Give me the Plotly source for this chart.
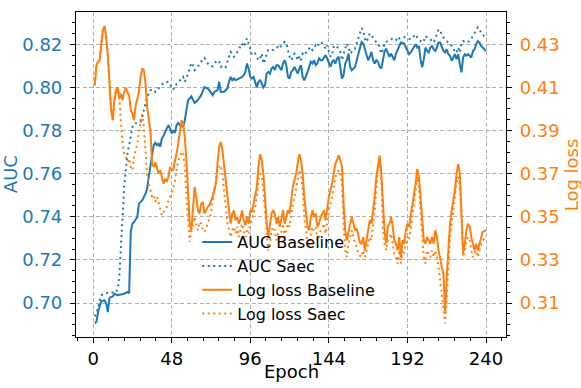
import plotly.graph_objects as go

# AUC, baseline model
auc_base_epoch = [1, 2, 3, 5, 7, 8, 9, 10, 12, 13, 15, 17, 19, 21, 22, 23, 24, 25, 27, 28, 30, 32, 33, 34, 36, 37, 38, 39, 40, 41,
                  42, 43, 44, 45, 46, 47, 48, 49, 50, 51, 52, 53, 55, 56, 57, 58, 60, 61, 62, 64, 65, 66, 68, 70, 71, 73, 74, 76, 77, 78,
                  80, 82, 83, 84, 85, 86, 87, 89, 91, 92, 93, 94, 95, 96, 97, 98, 99, 100, 101, 102, 103, 104, 105, 106, 107, 108, 109, 110,
                  111, 112, 113, 114, 115, 116, 117, 118, 119, 120, 121, 122, 123, 124, 125, 126, 127, 128, 129, 131, 132, 133, 134, 135,
                  136, 137, 138, 139, 140, 141, 142, 143, 144, 145, 146, 147, 148, 149, 150, 151, 152, 153, 154, 155, 156, 157, 158, 159,
                  160, 161, 162, 163, 164, 165, 166, 167, 168, 169, 170, 171, 172, 173, 174, 175, 176, 177, 178, 179, 180, 181, 182, 183,
                  184, 185, 186, 187, 188, 190, 192, 193, 194, 195, 196, 197, 198, 199, 200, 201, 202, 203, 204, 205, 206, 207, 208, 209,
                  210, 211, 212, 213, 214, 215, 216, 217, 218, 219, 220, 221, 222, 223, 224, 225, 226, 227, 228, 229, 230, 231, 232, 233,
                  234, 235, 236, 237, 238, 240]
auc_base = [0.6907, 0.6912, 0.6958, 0.7009, 0.7012, 0.6997, 0.6958, 0.7025, 0.7031, 0.7043, 0.7036, 0.7040, 0.7043, 0.7051, 0.7045,
            0.7330, 0.7368, 0.7376, 0.7399, 0.7461, 0.7476, 0.7507, 0.7531, 0.7585, 0.7693, 0.7732, 0.7743, 0.7732, 0.7739, 0.7724,
            0.7763, 0.7774, 0.7794, 0.7809, 0.7825, 0.7809, 0.7786, 0.7801, 0.7789, 0.7825, 0.7835, 0.7825, 0.7817, 0.7848, 0.7894,
            0.7941, 0.7959, 0.7944, 0.7928, 0.7941, 0.7953, 0.7964, 0.8002, 0.7995, 0.7987, 0.7964, 0.7979, 0.7987, 0.8026, 0.7979,
            0.7980, 0.7995, 0.8026, 0.8049, 0.8033, 0.8041, 0.8033, 0.8041, 0.8049, 0.8057, 0.8072, 0.8111, 0.8088, 0.8049, 0.8041,
            0.8049, 0.8026, 0.8000, 0.8026, 0.8033, 0.8018, 0.8000, 0.8010, 0.8064, 0.8072, 0.8064, 0.8088, 0.8095, 0.8080, 0.8103,
            0.8103, 0.8088, 0.8080, 0.8111, 0.8126, 0.8103, 0.8049, 0.8041, 0.8072, 0.8080, 0.8095, 0.8080, 0.8064, 0.8088, 0.8103,
            0.8049, 0.8033, 0.8072, 0.8095, 0.8119, 0.8111, 0.8126, 0.8103, 0.8111, 0.8134, 0.8126, 0.8126, 0.8142, 0.8150, 0.8134,
            0.8111, 0.8095, 0.8119, 0.8126, 0.8111, 0.8134, 0.8142, 0.8095, 0.8041, 0.8057, 0.8111, 0.8126, 0.8157, 0.8095, 0.8080,
            0.8088, 0.8095, 0.8126, 0.8157, 0.8188, 0.8211, 0.8204, 0.8180, 0.8157, 0.8126, 0.8142, 0.8165, 0.8126, 0.8111, 0.8126,
            0.8119, 0.8095, 0.8088, 0.8126, 0.8165, 0.8180, 0.8157, 0.8142, 0.8157, 0.8142, 0.8126, 0.8157, 0.8173, 0.8190, 0.8208,
            0.8203, 0.8169, 0.8154, 0.8162, 0.8177, 0.8185, 0.8200, 0.8185, 0.8192, 0.8131, 0.8093, 0.8131, 0.8185, 0.8169, 0.8162,
            0.8185, 0.8192, 0.8177, 0.8169, 0.8185, 0.8208, 0.8208, 0.8192, 0.8169, 0.8162, 0.8177, 0.8154, 0.8147, 0.8124, 0.8139,
            0.8154, 0.8131, 0.8154, 0.8108, 0.8070, 0.8139, 0.8154, 0.8147, 0.8154, 0.8147, 0.8139, 0.8169, 0.8177, 0.8200, 0.8215,
            0.8208, 0.8192, 0.8185, 0.8169]

# AUC, Saec model
auc_saec_epoch = [1, 3, 4, 5, 7, 9, 11, 13, 15, 16, 17, 18, 19, 20, 21, 22, 23, 24, 25, 27, 29, 30, 31, 32, 33, 35, 37, 38, 40, 41,
                  43, 46, 47, 49, 50, 52, 53, 55, 56, 58, 60, 61, 62, 64, 65, 67, 68, 70, 71, 73, 74, 76, 77, 78, 80, 81, 82, 83, 84, 85,
                  86, 87, 88, 89, 90, 91, 92, 93, 94, 95, 96, 97, 98, 99, 100, 101, 102, 103, 104, 105, 106, 107, 108, 109, 110, 111, 112,
                  113, 114, 115, 116, 117, 118, 119, 120, 121, 122, 123, 124, 125, 126, 127, 128, 129, 131, 132, 133, 134, 135, 136, 137,
                  138, 139, 140, 141, 142, 143, 144, 145, 146, 147, 148, 149, 150, 151, 152, 153, 154, 155, 156, 157, 158, 159, 160, 161,
                  162, 163, 164, 165, 166, 167, 168, 169, 170, 171, 172, 173, 174, 175, 176, 177, 178, 179, 180, 181, 182, 183, 184, 185,
                  186, 187, 188, 190, 192, 194, 196, 197, 198, 200, 201, 202, 203, 204, 206, 207, 208, 210, 211, 212, 213, 214, 216, 218,
                  220, 221, 222, 223, 224, 225, 226, 228, 230, 232, 233, 234, 235, 236, 237, 238, 240]
auc_saec = [0.6938, 0.6974, 0.7012, 0.7036, 0.7043, 0.7046, 0.7051, 0.7046, 0.7062, 0.7120, 0.7260, 0.7420, 0.7540, 0.7620, 0.7693,
            0.7732, 0.7786, 0.7817, 0.7832, 0.7835, 0.7840, 0.7863, 0.7894, 0.7917, 0.7956, 0.7987, 0.7990, 0.7979, 0.7995, 0.8006,
            0.8021, 0.8026, 0.8015, 0.7990, 0.8010, 0.8021, 0.8033, 0.8049, 0.8026, 0.8064, 0.8114, 0.8103, 0.8080, 0.8095, 0.8111,
            0.8126, 0.8137, 0.8111, 0.8103, 0.8098, 0.8111, 0.8126, 0.8119, 0.8095, 0.8103, 0.8095, 0.8119, 0.8142, 0.8165, 0.8157,
            0.8142, 0.8150, 0.8165, 0.8173, 0.8188, 0.8204, 0.8188, 0.8211, 0.8227, 0.8204, 0.8173, 0.8150, 0.8154, 0.8157, 0.8142,
            0.8126, 0.8134, 0.8157, 0.8111, 0.8126, 0.8157, 0.8173, 0.8173, 0.8176, 0.8173, 0.8180, 0.8185, 0.8188, 0.8180, 0.8196,
            0.8204, 0.8211, 0.8204, 0.8173, 0.8142, 0.8126, 0.8142, 0.8157, 0.8150, 0.8126, 0.8142, 0.8126, 0.8157, 0.8150, 0.8173,
            0.8180, 0.8188, 0.8173, 0.8180, 0.8196, 0.8188, 0.8204, 0.8211, 0.8204, 0.8188, 0.8180, 0.8196, 0.8173, 0.8142, 0.8157,
            0.8188, 0.8196, 0.8190, 0.8180, 0.8165, 0.8126, 0.8157, 0.8180, 0.8204, 0.8188, 0.8157, 0.8165, 0.8173, 0.8180, 0.8204,
            0.8227, 0.8250, 0.8275, 0.8265, 0.8225, 0.8211, 0.8235, 0.8250, 0.8242, 0.8227, 0.8219, 0.8211, 0.8204, 0.8188, 0.8157,
            0.8173, 0.8204, 0.8211, 0.8215, 0.8219, 0.8222, 0.8227, 0.8222, 0.8219, 0.8235, 0.8227, 0.8231, 0.8234, 0.8227, 0.8223,
            0.8238, 0.8246, 0.8231, 0.8215, 0.8208, 0.8215, 0.8238, 0.8231, 0.8223, 0.8215, 0.8208, 0.8246, 0.8269, 0.8261, 0.8246,
            0.8231, 0.8215, 0.8200, 0.8185, 0.8162, 0.8162, 0.8185, 0.8162, 0.8208, 0.8215, 0.8208, 0.8215, 0.8238, 0.8253, 0.8269,
            0.8279, 0.8269, 0.8253, 0.8246, 0.8223]

# Log loss, baseline model (one value per epoch listed)
loss_base_epoch = [1, 2, 3, 4, 5, 6, 7, 8, 9, 10, 11, 12, 13, 14, 15, 16, 17, 18, 19, 20, 21, 22, 23, 24, 25, 26, 27, 28, 29, 30,
                   31, 32, 33, 35, 36, 37, 38, 39, 40, 41, 42, 43, 44, 45, 46, 47, 48, 49, 50, 51, 52, 53, 54, 55, 56, 57, 58, 59, 60,
                   61, 62, 63, 64, 65, 66, 67, 68, 69, 70, 71, 72, 73, 74, 75, 76, 77, 78, 79, 80, 81, 82, 83, 84, 85, 86, 87, 88, 89,
                   90, 91, 92, 93, 94, 95, 96, 97, 98, 99, 100, 101, 102, 103, 104, 105, 106, 107, 108, 109, 110, 111, 112, 113, 114,
                   115, 116, 117, 118, 119, 120, 121, 122, 123, 124, 125, 126, 127, 128, 129, 131, 132, 133, 134, 135, 136, 137, 138,
                   139, 140, 141, 142, 143, 144, 145, 146, 147, 148, 149, 150, 151, 152, 153, 154, 155, 156, 157, 158, 159, 160, 161,
                   162, 163, 164, 165, 166, 167, 168, 169, 170, 171, 172, 173, 174, 175, 176, 177, 178, 179, 180, 181, 182, 183, 184,
                   185, 186, 187, 188, 189, 190, 191, 192, 193, 194, 195, 196, 197, 198, 199, 200, 201, 202, 203, 204, 205, 206, 207,
                   208, 209, 210, 211, 212, 213, 214, 215, 216, 217, 218, 219, 220, 221, 222, 223, 224, 225, 226, 227, 228, 229, 230,
                   231, 232, 233, 234, 235, 236, 237, 238, 240]
loss_base = [0.4110, 0.4203, 0.4218, 0.4226, 0.4304, 0.4365, 0.4384, 0.4334, 0.4249, 0.4133, 0.3994, 0.3948, 0.4041, 0.4087, 0.4099,
             0.4048, 0.4072, 0.4041, 0.4079, 0.4099, 0.4075, 0.4064, 0.3994, 0.3979, 0.3948, 0.4017, 0.4048, 0.4079, 0.4149, 0.4188,
             0.4180, 0.4118, 0.4010, 0.3901, 0.3747, 0.3731, 0.3754, 0.3731, 0.3700, 0.3716, 0.3685, 0.3654, 0.3677, 0.3662, 0.3685,
             0.3731, 0.3716, 0.3719, 0.3762, 0.3793, 0.3839, 0.3901, 0.3948, 0.3932, 0.3870, 0.3762, 0.3592, 0.3468, 0.3437, 0.3561,
             0.3638, 0.3592, 0.3530, 0.3515, 0.3561, 0.3569, 0.3515, 0.3530, 0.3546, 0.3553, 0.3569, 0.3592, 0.3623, 0.3654, 0.3747,
             0.3824, 0.3847, 0.3809, 0.3740, 0.3680, 0.3600, 0.3530, 0.3468, 0.3515, 0.3530, 0.3484, 0.3499, 0.3468, 0.3491, 0.3530,
             0.3484, 0.3460, 0.3499, 0.3468, 0.3530, 0.3522, 0.3561, 0.3592, 0.3638, 0.3731, 0.3790, 0.3762, 0.3700, 0.3592, 0.3468,
             0.3406, 0.3453, 0.3515, 0.3530, 0.3515, 0.3468, 0.3499, 0.3453, 0.3499, 0.3530, 0.3468, 0.3507, 0.3530, 0.3515, 0.3592,
             0.3638, 0.3669, 0.3700, 0.3747, 0.3790, 0.3762, 0.3700, 0.3592, 0.3453, 0.3437, 0.3499, 0.3530, 0.3499, 0.3515, 0.3453,
             0.3468, 0.3499, 0.3515, 0.3530, 0.3484, 0.3546, 0.3592, 0.3623, 0.3654, 0.3700, 0.3747, 0.3762, 0.3785, 0.3762, 0.3731,
             0.3561, 0.3437, 0.3391, 0.3437, 0.3468, 0.3499, 0.3468, 0.3437, 0.3445, 0.3406, 0.3380, 0.3375, 0.3406, 0.3344, 0.3391,
             0.3437, 0.3484, 0.3468, 0.3530, 0.3592, 0.3685, 0.3747, 0.3785, 0.3700, 0.3530, 0.3437, 0.3375, 0.3453, 0.3468, 0.3499,
             0.3453, 0.3391, 0.3375, 0.3344, 0.3406, 0.3313, 0.3391, 0.3375, 0.3437, 0.3468, 0.3453, 0.3499, 0.3546, 0.3592, 0.3654,
             0.3722, 0.3685, 0.3592, 0.3468, 0.3391, 0.3375, 0.3406, 0.3391, 0.3375, 0.3406, 0.3375, 0.3437, 0.3406, 0.3344, 0.3298,
             0.3267, 0.3236, 0.3060, 0.3221, 0.3344, 0.3468, 0.3530, 0.3576, 0.3623, 0.3700, 0.3745, 0.3700, 0.3530, 0.3329, 0.3375,
             0.3437, 0.3468, 0.3453, 0.3406, 0.3375, 0.3344, 0.3375, 0.3344, 0.3375, 0.3406, 0.3430, 0.3437]

# Log loss, Saec model
loss_saec_epoch = loss_base_epoch
loss_saec = [0.4110, 0.4203, 0.4218, 0.4226, 0.4304, 0.4365, 0.4384, 0.4334, 0.4249, 0.4133, 0.3994, 0.3948, 0.4041, 0.4087, 0.4099,
             0.4048, 0.3932, 0.3839, 0.3793, 0.3778, 0.3754, 0.3770, 0.3731, 0.3716, 0.3778, 0.3809, 0.3839, 0.3886, 0.3948, 0.3975,
             0.3917, 0.3809, 0.3685, 0.3623, 0.3592, 0.3600, 0.3569, 0.3592, 0.3561, 0.3530, 0.3507, 0.3522, 0.3538, 0.3546, 0.3576,
             0.3592, 0.3607, 0.3638, 0.3669, 0.3716, 0.3762, 0.3778, 0.3801, 0.3793, 0.3731, 0.3592, 0.3468, 0.3383, 0.3437, 0.3468,
             0.3499, 0.3468, 0.3437, 0.3476, 0.3468, 0.3437, 0.3430, 0.3445, 0.3468, 0.3484, 0.3515, 0.3576, 0.3623, 0.3654, 0.3716,
             0.3731, 0.3739, 0.3700, 0.3620, 0.3530, 0.3470, 0.3440, 0.3406, 0.3437, 0.3453, 0.3422, 0.3453, 0.3406, 0.3437, 0.3468,
             0.3437, 0.3406, 0.3437, 0.3422, 0.3468, 0.3484, 0.3515, 0.3546, 0.3592, 0.3669, 0.3700, 0.3685, 0.3623, 0.3530, 0.3406,
             0.3344, 0.3375, 0.3437, 0.3453, 0.3437, 0.3391, 0.3422, 0.3391, 0.3437, 0.3468, 0.3406, 0.3437, 0.3468, 0.3453, 0.3515,
             0.3561, 0.3592, 0.3638, 0.3685, 0.3716, 0.3700, 0.3623, 0.3499, 0.3375, 0.3360, 0.3422, 0.3453, 0.3437, 0.3453, 0.3391,
             0.3406, 0.3437, 0.3453, 0.3468, 0.3422, 0.3484, 0.3530, 0.3561, 0.3592, 0.3638, 0.3685, 0.3700, 0.3716, 0.3700, 0.3654,
             0.3468, 0.3344, 0.3313, 0.3375, 0.3406, 0.3437, 0.3406, 0.3375, 0.3360, 0.3329, 0.3320, 0.3313, 0.3344, 0.3313, 0.3344,
             0.3375, 0.3406, 0.3391, 0.3453, 0.3530, 0.3623, 0.3716, 0.3747, 0.3700, 0.3437, 0.3375, 0.3344, 0.3391, 0.3406, 0.3422,
             0.3375, 0.3329, 0.3313, 0.3283, 0.3344, 0.3283, 0.3344, 0.3329, 0.3375, 0.3406, 0.3391, 0.3437, 0.3499, 0.3561, 0.3623,
             0.3685, 0.3638, 0.3530, 0.3406, 0.3313, 0.3283, 0.3344, 0.3329, 0.3313, 0.3344, 0.3313, 0.3344, 0.3313, 0.3267, 0.3205,
             0.3143, 0.3066, 0.3005, 0.3128, 0.3283, 0.3406, 0.3468, 0.3530, 0.3592, 0.3654, 0.3685, 0.3638, 0.3530, 0.3313, 0.3344,
             0.3391, 0.3406, 0.3391, 0.3344, 0.3313, 0.3329, 0.3344, 0.3313, 0.3344, 0.3375, 0.3391, 0.3406]

blue = "#1f77b4"
orange = "#ff7f0e"
dotted = "2px,3.5px"

fig = go.Figure()
fig.add_trace(go.Scatter(x=auc_base_epoch, y=auc_base, mode="lines", name="AUC Baseline",
                         line=dict(color=blue, width=2)))
fig.add_trace(go.Scatter(x=auc_saec_epoch, y=auc_saec, mode="lines", name="AUC Saec",
                         line=dict(color=blue, width=2, dash=dotted)))
fig.add_trace(go.Scatter(x=loss_base_epoch, y=loss_base, mode="lines", name="Log loss Baseline",
                         line=dict(color=orange, width=2), yaxis="y2"))
fig.add_trace(go.Scatter(x=loss_saec_epoch, y=loss_saec, mode="lines", name="Log loss Saec",
                         line=dict(color=orange, width=2, dash=dotted), yaxis="y2"))

grid = dict(showgrid=True, gridcolor="#b0b0b0", gridwidth=1, griddash="4px,2.5px")
spine = dict(showline=True, linecolor="black", linewidth=1.2, zeroline=False, automargin=False,
             ticks="outside", ticklen=5, tickwidth=1.2, tickcolor="black")

fig.update_layout(
    width=581, height=388,
    margin=dict(l=76, r=75, t=12, b=51),
    paper_bgcolor="white", plot_bgcolor="white",
    font=dict(family="DejaVu Sans", size=18, color="black"),
    xaxis=dict(range=[-10.45, 252.2], tick0=0, dtick=48, mirror=True,
               minor=dict(dtick=9.6, tick0=0, ticks="outside", ticklen=3, tickcolor="black", showgrid=False),
               **grid, **spine),
    yaxis=dict(range=[0.68423, 0.83498], tick0=0.70, dtick=0.02, tickformat=".2f",
               tickfont=dict(color=blue), ticklabelstandoff=4,
               minor=dict(dtick=0.005, tick0=0.70, ticks="outside", ticklen=3, tickcolor="black", showgrid=False),
               **grid, **spine),
    yaxis2=dict(range=[0.29423, 0.44498], tick0=0.31, dtick=0.02, tickformat=".2f", overlaying="y", side="right",
                showgrid=False, tickfont=dict(color=orange), ticklabelstandoff=4,
                minor=dict(dtick=0.005, tick0=0.31, ticks="outside", ticklen=3, tickcolor="black", showgrid=False),
                **spine),
    legend=dict(x=0.282, y=0.344, xanchor="left", yanchor="top", bgcolor="rgba(0,0,0,0)",
                font=dict(size=16), tracegroupgap=0),
    annotations=[
        dict(text="AUC", xref="paper", yref="paper", x=-0.152, y=0.5, xanchor="center", yanchor="middle",
             textangle=-90, showarrow=False, font=dict(size=18, color=blue)),
        dict(text="Log loss", xref="paper", yref="paper", x=1.153, y=0.5, xanchor="center", yanchor="middle",
             textangle=-90, showarrow=False, font=dict(size=18, color=orange)),
        dict(text="Epoch", xref="paper", yref="paper", x=0.5, y=-0.105, xanchor="center", yanchor="middle",
             showarrow=False, font=dict(size=18, color="black")),
    ],
)

# drop the page's default body margin so the figure fills the window; no mode bar
fig.write_html("out.html", config={"displayModeBar": False},
               post_script="document.body.style.margin = '0';")
